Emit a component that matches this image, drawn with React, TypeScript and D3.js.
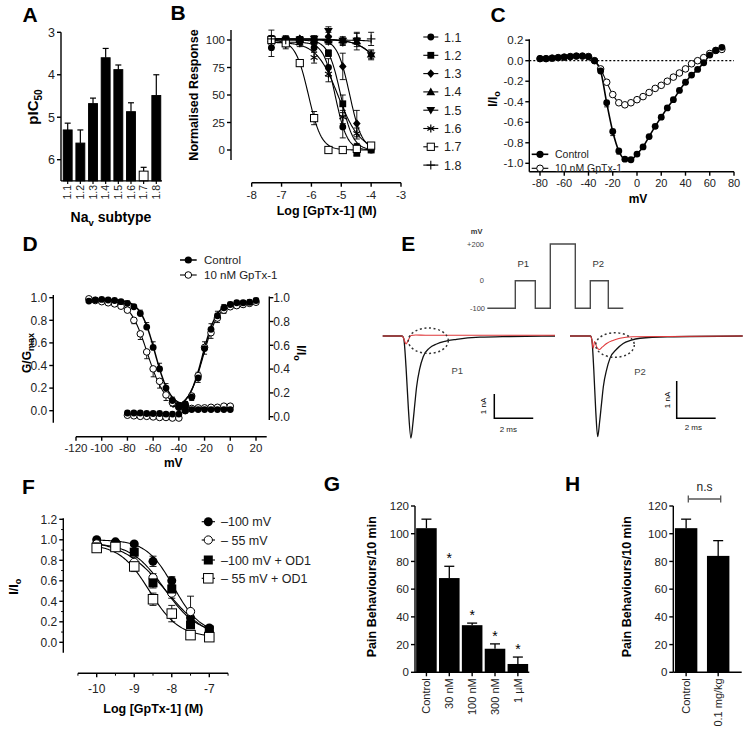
import React from "react";
import * as d3 from "d3";

const FONT = "'Liberation Sans', Arial, Helvetica, sans-serif";
const TK = "#222";

// ---------- Panel A ----------
const aSubtypes = ["1.1", "1.2", "1.3", "1.4", "1.5", "1.6", "1.7", "1.8"];
const aPIC50 = [5.3, 5.61, 4.68, 3.6, 3.88, 4.87, 6.27, 4.49];
const aErr = [0.16, 0.31, 0.13, 0.22, 0.11, 0.21, 0.09, 0.49];
const aTicks = [3, 4, 5, 6];

// ---------- Panel B ----------
const bLogConc = [-7.34, -6.86, -6.39, -5.91, -5.43, -4.95, -4.48, -4.0];
const bNames = ["1.1", "1.2", "1.3", "1.4", "1.5", "1.6", "1.7", "1.8"];
const bMarkers = ["circle", "square", "diamond", "triangle", "triangleDown", "star", "openSquare", "plus"];
const bResp11 = [93, 98, 99, 93, 75, 21, 3, 0];
const bResp12 = [100, 99, 100, 99, 88, 42, -3, 0];
const bResp13 = [101, 100, 101, 100, 103, 76, 24, 2];
const bResp14 = [101, 100, 101, 100, 100, 100, 99, 87];
const bResp15 = [100, 100, 100, 101, 108, 99, 99, 86];
const bResp16 = [98, 96, 97, 84, 69, 30, 15, 3];
const bResp17 = [100, 97, 79, 29, 0, 0, 1, 4];
const bResp18 = [101, 100, 100, 100, 99, 98, 100, 101];
const bErr11 = [8, 4, 3, 4, 8, 10, 3, 2];
const bErr12 = [3, 3, 2, 3, 3, 8, 2, 2];
const bErr13 = [3, 3, 2, 2, 4, 12, 12, 2];
const bErr14 = [3, 3, 2, 2, 3, 3, 3, 4];
const bErr15 = [3, 3, 3, 3, 4, 3, 8, 4];
const bErr16 = [5, 4, 3, 5, 7, 6, 5, 2];
const bErr17 = [3, 3, 3, 6, 2, 2, 2, 2];
const bErr18 = [8, 4, 3, 3, 3, 3, 6, 6];
const bFitLogIC50 = [-5.2, -5.02, -4.72, -3.2, -3.2, -5.1, -6.1, -2.0];
const bFitHill = [2.2, 2.1, 2.1, 1.0, 1.0, 1.2, 2.0, 1.0];
const bFitTop = [98, 100, 101, 101, 101, 98, 100, 100];
const bXTicks = [-8, -7, -6, -5, -4, -3];
const bYTicks = [0, 25, 50, 75, 100];

// ---------- Panel C ----------
const cVolt = [-80, -75, -70, -65, -60, -55, -50, -45, -40, -35, -30, -25, -20, -15, -10, -5, 0, 5, 10, 15, 20, 25, 30, 35, 40, 45, 50, 55, 60, 65, 70];
const cControl = [0.02, 0.02, 0.025, 0.03, 0.035, 0.04, 0.045, 0.045, 0.04, 0.0, -0.1, -0.41, -0.69, -0.88, -0.96, -0.965, -0.91, -0.84, -0.74, -0.64, -0.55, -0.46, -0.38, -0.29, -0.21, -0.14, -0.085, -0.02, 0.055, 0.1, 0.13];
const cGpTx = [0.02, 0.02, 0.025, 0.03, 0.035, 0.04, 0.045, 0.045, 0.04, 0.0, -0.08, -0.21, -0.33, -0.41, -0.43, -0.41, -0.38, -0.35, -0.31, -0.27, -0.24, -0.2, -0.16, -0.12, -0.08, -0.03, 0.0, 0.03, 0.07, 0.1, 0.11];
const cCtrlErr = [0.01, 0.01, 0.01, 0.01, 0.01, 0.01, 0.01, 0.01, 0.01, 0.01, 0.02, 0.04, 0.04, 0.03, 0.02, 0.02, 0.02, 0.02, 0.02, 0.02, 0.02, 0.02, 0.02, 0.02, 0.02, 0.02, 0.02, 0.02, 0.02, 0.02, 0.02];
const cXTicks = [-80, -60, -40, -20, 0, 20, 40, 60, 80];
const cYTicks = [0.2, 0.0, -0.2, -0.4, -0.6, -0.8, -1.0];

// ---------- Panel D ----------
const dInactV = [-110, -105, -100, -95, -90, -85, -80, -75, -70, -65, -60, -55, -50, -45, -40, -35];
const dInactCtrl = [0.97, 0.98, 0.985, 0.98, 0.975, 0.965, 0.95, 0.92, 0.86, 0.74, 0.56, 0.37, 0.2, 0.09, 0.05, 0.04];
const dInactCtrlErr = [0.01, 0.01, 0.01, 0.01, 0.01, 0.01, 0.02, 0.02, 0.03, 0.04, 0.05, 0.05, 0.04, 0.03, 0.02, 0.01];
const dInactGpTx = [0.99, 0.975, 0.965, 0.955, 0.945, 0.925, 0.89, 0.8, 0.68, 0.52, 0.37, 0.26, 0.14, 0.07, 0.04, 0.035];
const dInactGpTxErr = [0.01, 0.01, 0.01, 0.01, 0.01, 0.02, 0.02, 0.03, 0.05, 0.06, 0.07, 0.06, 0.05, 0.03, 0.02, 0.01];
const dActV = [-40, -35, -30, -25, -20, -15, -10, -5, 0, 5, 10, 15, 20];
const dActCtrl = [0.03, 0.06, 0.12, 0.29, 0.55, 0.72, 0.84, 0.91, 0.94, 0.955, 0.955, 0.96, 0.975];
const dActCtrlErr = [0.01, 0.02, 0.03, 0.05, 0.06, 0.05, 0.04, 0.03, 0.02, 0.02, 0.02, 0.02, 0.02];
const dActGpTx = [0.03, 0.05, 0.13, 0.31, 0.56, 0.69, 0.82, 0.89, 0.92, 0.93, 0.94, 0.95, 0.96];
const dActGpTxErr = [0.01, 0.02, 0.04, 0.06, 0.06, 0.05, 0.04, 0.03, 0.02, 0.02, 0.02, 0.02, 0.02];
const dFlatV = [-80, -75, -70, -65, -60, -55, -50, -45, -40, -35, -30, -25, -20, -15, -10, -5, 0];
const dFlatCtrl = [-0.02, -0.02, -0.02, -0.025, -0.025, -0.025, -0.03, -0.03, -0.03, 0.0, 0.01, 0.01, 0.01, 0.01, 0.01, 0.01, 0.01];
const dFlatGpTx = [-0.04, -0.045, -0.05, -0.05, -0.055, -0.06, -0.06, -0.065, -0.065, 0.0, 0.02, 0.025, 0.025, 0.03, 0.03, 0.04, 0.04];
const dXTicks = [-120, -100, -80, -60, -40, -20, 0, 20];
const dYTicks = [0.0, 0.2, 0.4, 0.6, 0.8, 1.0];
// Boltzmann fit parameters: [top, bottom, Vhalf, k]
const dFitInactCtrl = [0.985, 0.035, -58.5, 5.8];
const dFitInactGpTx = [0.99, 0.03, -64.5, 7];
const dFitActCtrl = [0.96, 0.02, -21.5, 5.5];
const dFitActGpTx = [0.95, 0.02, -21, 5.8];

// ---------- Panel E ----------
const eProtoTime = [0, 28, 48, 63, 88, 103, 121, 136];
const eProtoVolt = [-100, 0, -100, 200, -100, 0, -100, -100];
const eP1BlackT = [0, 1.0, 1.08, 1.2, 1.32, 1.45, 1.55, 1.65, 1.74, 1.9, 2.08, 2.4, 2.77, 3.2, 3.79, 5.0, 6.5, 8.85];
const eP1BlackI = [0, 0, -0.1, -1.3, -3.0, -4.2, -3.6, -2.8, -2.1, -1.35, -0.85, -0.5, -0.33, -0.22, -0.14, -0.05, -0.02, 0];
const eP1RedT = [0, 1.0, 1.1, 1.2, 1.3, 1.45, 1.7, 2.2, 8.85];
const eP1RedI = [0, 0, -0.15, -0.33, -0.2, 0.02, 0.04, 0.03, 0.03];
const eP2BlackT = [0, 1.05, 1.12, 1.22, 1.32, 1.42, 1.52, 1.62, 1.71, 1.88, 2.05, 2.4, 2.73, 3.1, 3.59, 5.0, 8.86];
const eP2BlackI = [0, 0, -0.1, -0.9, -2.0, -2.7, -2.3, -1.8, -1.36, -0.9, -0.6, -0.35, -0.2, -0.12, -0.06, -0.02, 0];
const eP2RedT = [0, 1.05, 1.12, 1.19, 1.26, 1.38, 1.5, 1.65, 1.88, 2.2, 2.56, 3.2, 8.86];
const eP2RedI = [0, 0, -0.1, -0.33, -0.15, -0.3, -0.36, -0.3, -0.2, -0.12, -0.06, -0.02, 0];

// ---------- Panel F ----------
const fLogConc = [-10, -9.5, -9, -8.5, -8, -7.5, -7];
const fNames = ["\u2013100 mV", "\u2013 55 mV", "\u2013100 mV + OD1", "\u2013 55 mV + OD1"];
const fMarkers = ["circle", "openCircle", "square", "openSquare"];
const fResp100 = [1.0, 0.98, 0.96, 0.79, 0.6, 0.24, 0.14];
const fResp55 = [0.96, 0.94, 0.78, 0.63, 0.48, 0.3, 0.1];
const fResp100OD1 = [0.93, 0.95, 0.88, 0.58, 0.52, 0.17, 0.12];
const fResp55OD1 = [0.92, 0.93, 0.74, 0.42, 0.28, 0.07, 0.05];
const fErr100 = [0.02, 0.02, 0.02, 0.05, 0.04, 0.03, 0.02];
const fErr55 = [0.02, 0.02, 0.05, 0.04, 0.05, 0.15, 0.02];
const fErr100OD1 = [0.02, 0.02, 0.03, 0.05, 0.04, 0.03, 0.02];
const fErr55OD1 = [0.02, 0.02, 0.05, 0.06, 0.08, 0.03, 0.02];
// Hill fit params: [top, bottom, logIC50, hill]
const fFit100 = [1.0, 0.08, -7.95, 1.2];
const fFit55 = [1.0, 0.0, -8.15, 0.75];
const fFit100OD1 = [0.97, 0.08, -8.2, 1.0];
const fFit55OD1 = [0.96, 0.05, -8.6, 1.1];
const fXTicks = [-10, -9, -8, -7];
const fYTicks = [0.0, 0.2, 0.4, 0.6, 0.8, 1.0, 1.2];

// ---------- Panel G ----------
const gCats = ["Control", "30 nM", "100 nM", "300 nM", "1 \u00b5M"];
const gVals = [104, 68, 34, 17, 6];
const gErr = [6.5, 8.5, 1.5, 3.5, 5];
const gSig = [false, true, true, true, true];
const gYTicks = [0, 20, 40, 60, 80, 100, 120];

// ---------- Panel H ----------
const hCats = ["Control", "0.1 mg/kg"];
const hVals = [104, 84];
const hErr = [6.5, 11];

// ---------- helpers ----------
const SW = 1.4;

function Marker({ type, x, y, k = 1 }: { type: string; x: number; y: number; k?: number }) {
  switch (type) {
    case "circle":
      return <circle cx={x} cy={y} r={3.6 * k} fill="#000" />;
    case "openCircle":
      return <circle cx={x} cy={y} r={3.3 * k} fill="#fff" stroke="#000" strokeWidth={1} />;
    case "square":
      return <rect x={x - 3.6 * k} y={y - 3.6 * k} width={7.2 * k} height={7.2 * k} fill="#000" />;
    case "openSquare":
      return <rect x={x - 3.8 * k} y={y - 3.8 * k} width={7.6 * k} height={7.6 * k} fill="#fff" stroke="#000" strokeWidth={1} />;
    case "diamond":
      return <path d={`M${x},${y - 4.6 * k}L${x + 4 * k},${y}L${x},${y + 4.6 * k}L${x - 4 * k},${y}Z`} fill="#000" />;
    case "triangle":
      return <path d={`M${x},${y - 4.6 * k}L${x + 4.6 * k},${y + 3.4 * k}L${x - 4.6 * k},${y + 3.4 * k}Z`} fill="#000" />;
    case "triangleDown":
      return <path d={`M${x},${y + 4.6 * k}L${x + 4.6 * k},${y - 3.4 * k}L${x - 4.6 * k},${y - 3.4 * k}Z`} fill="#000" />;
    case "star": {
      const r = 4.2 * k;
      const angs = [90, 30, 150];
      return (
        <g stroke="#000" strokeWidth={1.2}>
          {angs.map((a) => {
            const rad = (a * Math.PI) / 180;
            return <line key={a} x1={x - r * Math.cos(rad)} y1={y - r * Math.sin(rad)} x2={x + r * Math.cos(rad)} y2={y + r * Math.sin(rad)} />;
          })}
        </g>
      );
    }
    case "plus":
      return (
        <g stroke="#000" strokeWidth={1.1}>
          <line x1={x - 4.5 * k} x2={x + 4.5 * k} y1={y} y2={y} />
          <line x1={x} x2={x} y1={y - 4.5 * k} y2={y + 4.5 * k} />
        </g>
      );
    default:
      return null;
  }
}

function ErrBar({ x, y0, y1, cap = 3, sw = 1 }: { x: number; y0: number; y1: number; cap?: number; sw?: number }) {
  return (
    <g stroke="#000" strokeWidth={sw}>
      <line x1={x} x2={x} y1={y0} y2={y1} />
      <line x1={x - cap} x2={x + cap} y1={y1} y2={y1} />
    </g>
  );
}

function VAxis({ x, y0, y1, ticks, scale, fmt, side = "left", len = 4, fs = 11, gap = 2, minor = [] as number[] }: any) {
  const dir = side === "left" ? -1 : 1;
  return (
    <g>
      <line x1={x} x2={x} y1={y0} y2={y1} stroke="#000" strokeWidth={SW} />
      {ticks.map((t: number) => (
        <line key={"t" + t} x1={x} x2={x + dir * len} y1={scale(t)} y2={scale(t)} stroke="#000" strokeWidth={SW} />
      ))}
      {minor.map((t: number) => (
        <line key={"m" + t} x1={x} x2={x + dir * len * 0.55} y1={scale(t)} y2={scale(t)} stroke="#000" strokeWidth={1} />
      ))}
      {ticks.map((t: number) => (
        <text key={"l" + t} x={x + dir * (len + gap)} y={scale(t)} dy="0.36em" textAnchor={side === "left" ? "end" : "start"} fontSize={fs} fill={TK}>
          {fmt(t)}
        </text>
      ))}
    </g>
  );
}

function HAxis({ y, x0, x1, ticks, scale, fmt, len = 4, fs = 11, labelY, minor = [] as number[] }: any) {
  return (
    <g>
      <line x1={x0} x2={x1} y1={y} y2={y} stroke="#000" strokeWidth={SW} />
      {ticks.map((t: number) => (
        <line key={"t" + t} x1={scale(t)} x2={scale(t)} y1={y} y2={y + len} stroke="#000" strokeWidth={SW} />
      ))}
      {minor.map((t: number) => (
        <line key={"m" + t} x1={scale(t)} x2={scale(t)} y1={y} y2={y + len * 0.6} stroke="#000" strokeWidth={1} />
      ))}
      {ticks.map((t: number) => (
        <text key={"l" + t} x={scale(t)} y={labelY} textAnchor="middle" fontSize={fs} fill={TK}>
          {fmt(t)}
        </text>
      ))}
    </g>
  );
}

const PanelLabel = ({ x, y, t }: { x: number; y: number; t: string }) => (
  <text x={x} y={y} fontSize={21} fontWeight={700} textAnchor="middle" fill="#000">
    {t}
  </text>
);

const RotText = ({ x, y, children, fs = 12, bold = true, angle = -90, anchor = "middle" }: any) => (
  <text transform={`translate(${x},${y}) rotate(${angle})`} textAnchor={anchor} dy="0.35em" fontSize={fs} fontWeight={bold ? 700 : 400} fill="#000">
    {children}
  </text>
);

const hill = (x: number, top: number, bottom: number, c: number, h: number) => bottom + (top - bottom) / (1 + Math.pow(10, (x - c) * h));
const boltzDown = (v: number, p: number[]) => p[1] + (p[0] - p[1]) / (1 + Math.exp((v - p[2]) / p[3]));
const boltzUp = (v: number, p: number[]) => p[1] + (p[0] - p[1]) / (1 + Math.exp((p[2] - v) / p[3]));

// ---------- Panels ----------
function PanelA() {
  const y = d3.scaleLinear().domain([3, 6.5]).range([32.3, 180.9]);
  const x = d3.scaleBand().domain(aSubtypes).range([62, 162]).paddingInner(0.3).paddingOuter(0.1);
  const base = y(6.5);
  return (
    <g>
      <PanelLabel x={30} y={22} t="A" />
      {aSubtypes.map((s, i) => {
        const bx = x(s)!;
        const bw = x.bandwidth();
        const cx = bx + bw / 2;
        const top = y(aPIC50[i]);
        const et = y(aPIC50[i] - aErr[i]);
        return (
          <g key={s}>
            <ErrBar x={cx} y0={top} y1={et} cap={3} sw={1.2} />
            <rect x={bx} y={top} width={bw} height={base - top} fill={s === "1.7" ? "#fff" : "#000"} stroke="#000" strokeWidth={1} />
            <line x1={cx} x2={cx} y1={base} y2={base + 3} stroke="#000" strokeWidth={1.2} />
            <text transform={`translate(${cx},${base + 4}) rotate(-90)`} textAnchor="end" dy="0.36em" fontSize={10.5} fill={TK}>
              {s}
            </text>
          </g>
        );
      })}
      <line x1={61} x2={162} y1={base} y2={base} stroke="#000" strokeWidth={SW} />
      <VAxis x={61} y0={32.3} y1={base} ticks={aTicks} scale={y} fmt={(t: number) => String(t)} fs={12.5} gap={2} />
      <text transform="translate(33,107) rotate(-90)" textAnchor="middle" dy="0.35em" fontSize={15} fontWeight={700}>
        pIC<tspan fontSize={10} dy="4">50</tspan>
      </text>
      <text x={111} y={222} textAnchor="middle" fontSize={14} fontWeight={700}>
        Na<tspan fontSize={9.5} dy="4">v</tspan>
        <tspan dy="-4"> subtype</tspan>
      </text>
    </g>
  );
}

function PanelB() {
  const x = d3.scaleLinear().domain([-8, -3]).range([251.7, 401]);
  const y = d3.scaleLinear().domain([0, 100]).range([150, 40]);
  const resp = [bResp11, bResp12, bResp13, bResp14, bResp15, bResp16, bResp17, bResp18];
  const errs = [bErr11, bErr12, bErr13, bErr14, bErr15, bErr16, bErr17, bErr18];
  const xs = d3.range(0, 101).map((i) => bLogConc[0] + ((bLogConc[7] - bLogConc[0]) * i) / 100);
  return (
    <g>
      <PanelLabel x={178} y={20} t="B" />
      {bNames.map((n, si) => {
        const path = d3
          .line<number>()
          .x((d) => x(d))
          .y((d) => y(hill(d, bFitTop[si], 0, bFitLogIC50[si], bFitHill[si])))(xs);
        return <path key={"c" + n} d={path!} fill="none" stroke="#000" strokeWidth={1.1} />;
      })}
      {bNames.map((n, si) =>
        bLogConc.map((c, i) => {
          const v = resp[si][i];
          const e = errs[si][i];
          return (
            <g key={n + i}>
              <ErrBar x={x(c)} y0={y(v)} y1={y(v + e)} cap={3} sw={0.9} />
              <ErrBar x={x(c)} y0={y(v)} y1={y(v - e)} cap={3} sw={0.9} />
            </g>
          );
        })
      )}
      {bNames.map((n, si) => bLogConc.map((c, i) => <Marker key={"m" + n + i} type={bMarkers[si]} x={x(c)} y={y(resp[si][i])} k={0.95} />))}
      <VAxis x={231} y0={30} y1={160} ticks={bYTicks} scale={y} fmt={(t: number) => String(t)} fs={11.5} />
      <HAxis y={182.7} x0={251.7} x1={401} ticks={bXTicks} scale={x} fmt={(t: number) => String(t)} fs={11.5} labelY={199} />
      <RotText x={193.3} y={95} fs={12.5}>
        Normalised Response
      </RotText>
      <text x={326.7} y={215} textAnchor="middle" fontSize={12.5} fontWeight={700}>
        Log [GpTx-1] (M)
      </text>
      {bNames.map((n, si) => {
        const ly = 37 + 18.3 * si;
        return (
          <g key={"lg" + n}>
            <line x1={423.3} x2={438.3} y1={ly} y2={ly} stroke="#000" strokeWidth={1.1} />
            <Marker type={bMarkers[si]} x={430.8} y={ly} k={0.95} />
            <text x={444} y={ly} dy="0.36em" fontSize={12.5} fill={TK}>
              {n}
            </text>
          </g>
        );
      })}
    </g>
  );
}

function PanelC() {
  const x = d3.scaleLinear().domain([-80, 80]).range([540, 734]);
  const y = d3.scaleLinear().domain([0, -1]).range([60.7, 163.3]);
  const line = d3
    .line<number>()
    .x((_, i) => x(cVolt[i]))
    .curve(d3.curveMonotoneX);
  const ctrlPath = line.y((d) => y(d))(cControl);
  const gpPath = line.y((d) => y(d))(cGpTx);
  return (
    <g>
      <PanelLabel x={498} y={22} t="C" />
      <line x1={529.3} x2={734} y1={y(0)} y2={y(0)} stroke="#000" strokeWidth={1.2} strokeDasharray="2,2" />
      <path d={gpPath!} fill="none" stroke="#000" strokeWidth={1.1} />
      <path d={ctrlPath!} fill="none" stroke="#000" strokeWidth={1.6} />
      {cVolt.map((v, i) => (
        <ErrBar key={"e" + v} x={x(v)} y0={y(cControl[i])} y1={y(cControl[i] - cCtrlErr[i])} cap={2.5} sw={0.9} />
      ))}
      {cVolt.map((v, i) => (
        <Marker key={"g" + v} type="openCircle" x={x(v)} y={y(cGpTx[i])} k={1} />
      ))}
      {cVolt.map((v, i) => (
        <Marker key={"c" + v} type="circle" x={x(v)} y={y(cControl[i])} k={0.95} />
      ))}
      <VAxis x={529.3} y0={39.3} y1={171.7} ticks={cYTicks} scale={y} fmt={(t: number) => t.toFixed(1)} fs={11.5} />
      <HAxis y={171.7} x0={529.3} x1={734} ticks={cXTicks} scale={x} fmt={(t: number) => String(t)} fs={11} labelY={187} />
      <text x={638} y={203} textAnchor="middle" fontSize={12} fontWeight={700}>
        mV
      </text>
      <text transform="translate(493,99) rotate(-90)" textAnchor="middle" dy="0.35em" fontSize={12} fontWeight={700}>
        I/I<tspan fontSize={9} dy="3">o</tspan>
      </text>
      <g>
        <line x1={531.7} x2={548.3} y1={154.3} y2={154.3} stroke="#000" strokeWidth={1.6} />
        <Marker type="circle" x={540} y={154.3} />
        <text x={555} y={154.3} dy="0.36em" fontSize={10.5} fill={TK}>
          Control
        </text>
        <line x1={531.7} x2={548.3} y1={168.3} y2={168.3} stroke="#000" strokeWidth={1.1} />
        <Marker type="openCircle" x={540} y={168.3} />
        <text x={555} y={168.3} dy="0.36em" fontSize={10.5} fill={TK}>
          10 nM GpTx-1
        </text>
      </g>
    </g>
  );
}

function PanelD() {
  const x = d3.scaleLinear().domain([-120, 20]).range([76, 256]);
  const y = d3.scaleLinear().domain([0, 1]).range([410.7, 297.7]);
  const yR = d3.scaleLinear().domain([0, 1]).range([416.7, 297.7]);
  const mk = (vs: number[], f: (v: number) => number) =>
    d3
      .line<number>()
      .x((v) => x(v))
      .y((v) => y(f(v)))(vs);
  const inactX = d3.range(0, 101).map((i) => -110 + (75 * i) / 100);
  const actX = d3.range(0, 101).map((i) => -45 + (65 * i) / 100);
  return (
    <g>
      <PanelLabel x={30} y={251} t="D" />
      <path d={mk(inactX, (v) => boltzDown(v, dFitInactCtrl))!} fill="none" stroke="#000" strokeWidth={1.5} />
      <path d={mk(inactX, (v) => boltzDown(v, dFitInactGpTx))!} fill="none" stroke="#000" strokeWidth={1.1} />
      <path d={mk(actX, (v) => boltzUp(v, dFitActCtrl))!} fill="none" stroke="#000" strokeWidth={1.5} />
      <path d={mk(actX, (v) => boltzUp(v, dFitActGpTx))!} fill="none" stroke="#000" strokeWidth={1.1} />
      {dInactV.map((v, i) => (
        <g key={"ie" + v}>
          <ErrBar x={x(v)} y0={y(dInactCtrl[i])} y1={y(dInactCtrl[i] + dInactCtrlErr[i])} cap={2.5} sw={0.9} />
          <ErrBar x={x(v)} y0={y(dInactGpTx[i])} y1={y(dInactGpTx[i] - dInactGpTxErr[i])} cap={2.5} sw={0.9} />
        </g>
      ))}
      {dActV.map((v, i) => (
        <g key={"ae" + v}>
          <ErrBar x={x(v)} y0={y(dActCtrl[i])} y1={y(dActCtrl[i] + dActCtrlErr[i])} cap={2.5} sw={0.9} />
          <ErrBar x={x(v)} y0={y(dActGpTx[i])} y1={y(dActGpTx[i] - dActGpTxErr[i])} cap={2.5} sw={0.9} />
        </g>
      ))}
      {dInactV.map((v, i) => (
        <Marker key={"ig" + v} type="openCircle" x={x(v)} y={y(dInactGpTx[i])} />
      ))}
      {dActV.map((v, i) => (
        <Marker key={"ag" + v} type="openCircle" x={x(v)} y={y(dActGpTx[i])} />
      ))}
      {dFlatV.map((v, i) => (
        <Marker key={"fg" + v} type="openCircle" x={x(v)} y={y(dFlatGpTx[i])} />
      ))}
      {dInactV.map((v, i) => (
        <Marker key={"ic" + v} type="circle" x={x(v)} y={y(dInactCtrl[i])} k={0.95} />
      ))}
      {dActV.map((v, i) => (
        <Marker key={"ac" + v} type="circle" x={x(v)} y={y(dActCtrl[i])} k={0.95} />
      ))}
      {dFlatV.map((v, i) => (
        <Marker key={"fc" + v} type="circle" x={x(v)} y={y(dFlatCtrl[i])} k={0.95} />
      ))}
      <VAxis x={53.3} y0={295} y1={422.7} ticks={dYTicks} scale={y} fmt={(t: number) => t.toFixed(1)} fs={12} />
      <VAxis x={269.3} y0={296.5} y1={420} ticks={dYTicks} scale={yR} fmt={(t: number) => t.toFixed(1)} fs={12} side="right" gap={0} />
      <HAxis y={436.7} x0={76} x1={266.7} ticks={dXTicks} scale={x} fmt={(t: number) => String(t)} fs={11.5} labelY={451.5} />
      <text x={173.3} y={467} textAnchor="middle" fontSize={12} fontWeight={700}>
        mV
      </text>
      <text transform="translate(26.7,353) rotate(-90)" textAnchor="middle" dy="0.35em" fontSize={12} fontWeight={700}>
        G/G<tspan fontSize={9} dy="3">max</tspan>
      </text>
      <text transform="translate(301.7,353) rotate(90)" textAnchor="middle" dy="0.35em" fontSize={12} fontWeight={700}>
        I/I<tspan fontSize={9} dy="3">o</tspan>
      </text>
      <line x1={180} x2={196.7} y1={260} y2={260} stroke="#000" strokeWidth={1.5} />
      <Marker type="circle" x={188.3} y={260} />
      <text x={204} y={260} dy="0.36em" fontSize={11.5} fill={TK}>
        Control
      </text>
      <line x1={180} x2={196.7} y1={275} y2={275} stroke="#000" strokeWidth={1.1} />
      <Marker type="openCircle" x={188.3} y={275} />
      <text x={204} y={275} dy="0.36em" fontSize={11.5} fill={TK}>
        10 nM GpTx-1
      </text>
    </g>
  );
}

function Trace({ t, i, xs, ys, color, sw }: any) {
  const p = d3
    .line<number>()
    .x((d) => xs(d))
    .y((_, k) => ys(i[k]))
    .curve(d3.curveMonotoneX)(t);
  return <path d={p!} fill="none" stroke={color} strokeWidth={sw} />;
}

function PanelE() {
  const px = d3.scaleLinear().domain([0, 136]).range([487.3, 623.3]);
  const py = d3.scaleLinear().domain([-100, 0, 200]).range([308.3, 280.7, 244]);
  const proto = d3
    .line<number>()
    .x((d) => px(d))
    .y((_, k) => py(eProtoVolt[k]))
    .curve(d3.curveStepAfter)(eProtoTime);
  const x1 = d3.scaleLinear().domain([0, 8.85]).range([382.7, 555]);
  const y1 = d3.scaleLinear().domain([0, -1]).range([336, 360.3]);
  const x2 = d3.scaleLinear().domain([0, 8.86]).range([570, 742.7]);
  const y2 = d3.scaleLinear().domain([0, -1]).range([336, 373.3]);
  const red = "#e0393b";
  const txt = { fontSize: 7.5, fill: "#444" };
  return (
    <g>
      <PanelLabel x={408.3} y={251} t="E" />
      <path d={proto!} fill="none" stroke="#4a4a4a" strokeWidth={1.4} />
      <text x={476.7} y={234} textAnchor="middle" fontSize={7.5} fontWeight={700} fill="#333">
        mV
      </text>
      <text x={484} y={246.5} textAnchor="end" {...txt}>
        +200
      </text>
      <text x={484} y={283} textAnchor="end" {...txt}>
        0
      </text>
      <text x={485} y={311} textAnchor="end" {...txt}>
        -100
      </text>
      <text x={523.3} y={267} textAnchor="middle" fontSize={9.5} fill="#333">
        P1
      </text>
      <text x={598.3} y={267} textAnchor="middle" fontSize={9.5} fill="#333">
        P2
      </text>
      <Trace t={eP1BlackT} i={eP1BlackI} xs={x1} ys={y1} color="#111" sw={1.3} />
      <Trace t={eP1RedT} i={eP1RedI} xs={x1} ys={y1} color={red} sw={1.1} />
      <Trace t={eP2BlackT} i={eP2BlackI} xs={x2} ys={y2} color="#111" sw={1.3} />
      <Trace t={eP2RedT} i={eP2RedI} xs={x2} ys={y2} color={red} sw={1.1} />
      <ellipse cx={428.3} cy={340.7} rx={20} ry={12.7} fill="none" stroke="#333" strokeWidth={1.5} strokeDasharray="2,2.6" />
      <ellipse cx={615} cy={345} rx={19.3} ry={12.3} fill="none" stroke="#333" strokeWidth={1.5} strokeDasharray="2,2.6" />
      <text x={457.3} y={374} textAnchor="middle" fontSize={9.5} fill="#444">
        P1
      </text>
      <text x={640} y={375} textAnchor="middle" fontSize={9.5} fill="#444">
        P2
      </text>
      {/* scale bars: 1 nA and 2 ms */}
      <path d={`M494.3,${418.3 - (y1(-1) - y1(0))}V418.3H${494.3 + (x1(2) - x1(0))}`} fill="none" stroke="#000" strokeWidth={1.5} />
      <path d={`M676.7,${418.3 - (y2(-1) - y2(0))}V418.3H${676.7 + (x2(2) - x2(0))}`} fill="none" stroke="#000" strokeWidth={1.5} />
      <RotText x={483.3} y={406} fs={8} bold={false}>
        1 nA
      </RotText>
      <RotText x={667.3} y={400} fs={8} bold={false}>
        1 nA
      </RotText>
      <text x={508.3} y={432} textAnchor="middle" fontSize={8} fill="#222">
        2 ms
      </text>
      <text x={693.3} y={430} textAnchor="middle" fontSize={8} fill="#222">
        2 ms
      </text>
    </g>
  );
}

function PanelF() {
  const x = d3.scaleLinear().domain([-10, -7]).range([96.7, 209.3]);
  const y = d3.scaleLinear().domain([0, 1.2]).range([642.3, 519.3]);
  const resp = [fResp100, fResp55, fResp100OD1, fResp55OD1];
  const errs = [fErr100, fErr55, fErr100OD1, fErr55OD1];
  const fits = [fFit100, fFit55, fFit100OD1, fFit55OD1];
  const xs = d3.range(0, 101).map((i) => -10 + (3 * i) / 100);
  const xMinor = [-10.5, -9.5, -8.5, -7.5, -6.5];
  const yMinor = [0.1, 0.3, 0.5, 0.7, 0.9, 1.1];
  return (
    <g>
      <PanelLabel x={28.5} y={494} t="F" />
      {fits.map((p, si) => {
        const path = d3
          .line<number>()
          .x((d) => x(d))
          .y((d) => y(hill(d, p[0], p[1], p[2], p[3])))(xs);
        return <path key={"f" + si} d={path!} fill="none" stroke="#000" strokeWidth={1.1} />;
      })}
      {resp.map((r, si) =>
        fLogConc.map((c, i) => (
          <g key={"e" + si + i}>
            <ErrBar x={x(c)} y0={y(r[i])} y1={y(r[i] + errs[si][i])} cap={3.5} sw={0.9} />
            <ErrBar x={x(c)} y0={y(r[i])} y1={y(r[i] - errs[si][i])} cap={3.5} sw={0.9} />
          </g>
        ))
      )}
      {resp.map((r, si) => fLogConc.map((c, i) => <Marker key={"m" + si + i} type={fMarkers[si]} x={x(c)} y={y(r[i])} k={1.25} />))}
      <VAxis x={63.3} y0={518.3} y1={652.7} ticks={fYTicks} scale={y} fmt={(t: number) => t.toFixed(1)} fs={12} minor={yMinor} />
      <HAxis y={673.3} x0={x(-10.5)} x1={x(-6.5)} ticks={fXTicks} scale={x} fmt={(t: number) => String(t)} fs={12} labelY={692.5} minor={xMinor} />
      <text x={153.3} y={712.5} textAnchor="middle" fontSize={12.5} fontWeight={700}>
        Log [GpTx-1] (M)
      </text>
      <text transform="translate(13.3,586.7) rotate(-90)" textAnchor="middle" dy="0.35em" fontSize={12.5} fontWeight={700}>
        I/I<tspan fontSize={9} dy="3">o</tspan>
      </text>
      {fNames.map((n, si) => {
        const ly = [521.7, 540, 560, 578.3][si];
        return (
          <g key={"lg" + si}>
            <line x1={201.7} x2={215} y1={ly} y2={ly} stroke="#000" strokeWidth={1.1} />
            <Marker type={fMarkers[si]} x={208.3} y={ly} k={1.25} />
            <text x={221} y={ly} dy="0.36em" fontSize={12.5} fill={TK}>
              {n}
            </text>
          </g>
        );
      })}
    </g>
  );
}

function BarPanel({ cats, vals, errs, sig, axisX, axisEnd, bandEnd, pIn, pOut, titleX, label, labelX }: any) {
  const y = d3.scaleLinear().domain([0, 120]).range([672.3, 506]);
  const x = d3.scaleBand().domain(cats).range([axisX, bandEnd]).paddingInner(pIn).paddingOuter(pOut);
  const base = y(0);
  return (
    <g>
      <PanelLabel x={labelX} y={491} t={label} />
      {cats.map((c: string, i: number) => {
        const bx = x(c)!;
        const bw = x.bandwidth();
        const cx = bx + bw / 2;
        const top = y(vals[i]);
        const et = y(vals[i] + errs[i]);
        return (
          <g key={c}>
            <ErrBar x={cx} y0={top} y1={et} cap={5} sw={1.3} />
            <rect x={bx} y={top} width={bw} height={base - top} fill="#000" />
            <line x1={cx} x2={cx} y1={base} y2={base + 4} stroke="#000" strokeWidth={SW} />
            <text transform={`translate(${cx},${base + 6}) rotate(-90)`} textAnchor="end" dy="0.36em" fontSize={11} fill={TK}>
              {c}
            </text>
            {sig && sig[i] ? (
              <text x={cx} y={et - 3} textAnchor="middle" fontSize={14} fill="#000">
                *
              </text>
            ) : null}
          </g>
        );
      })}
      <line x1={axisX} x2={axisEnd} y1={base} y2={base} stroke="#000" strokeWidth={SW} />
      <VAxis x={axisX} y0={506} y1={base} ticks={gYTicks} scale={y} fmt={(t: number) => String(t)} fs={11.5} />
      <RotText x={titleX} y={586.7} fs={12.5}>
        Pain Behaviours/10 min
      </RotText>
    </g>
  );
}

function PanelH() {
  return (
    <g>
      <BarPanel cats={hCats} vals={hVals} errs={hErr} axisX={673.3} axisEnd={741.7} bandEnd={731} pIn={0.3} pOut={0.05} titleX={626.7} label="H" labelX={572.5} />
      <g stroke="#555" strokeWidth={1.3}>
        <line x1={688.3} x2={720.7} y1={499} y2={499} />
        <line x1={688.3} x2={688.3} y1={495.5} y2={502.5} />
        <line x1={720.7} x2={720.7} y1={495.5} y2={502.5} />
      </g>
      <text x={704.5} y={491} textAnchor="middle" fontSize={12} fill="#222">
        n.s
      </text>
    </g>
  );
}

export default function App() {
  return (
    <svg width={745} height={737} viewBox="0 0 745 737" style={{ position: "absolute", left: 0, top: 0, background: "#fff" }} fontFamily={FONT}>
      <rect width={745} height={737} fill="#fff" />
      <PanelA />
      <PanelB />
      <PanelC />
      <PanelD />
      <PanelE />
      <PanelF />
      <BarPanel cats={gCats} vals={gVals} errs={gErr} sig={gSig} axisX={415} axisEnd={529.3} bandEnd={529.3} pIn={0.1} pOut={0.05} titleX={371.7} label="G" labelX={332} />
      <PanelH />
    </svg>
  );
}
